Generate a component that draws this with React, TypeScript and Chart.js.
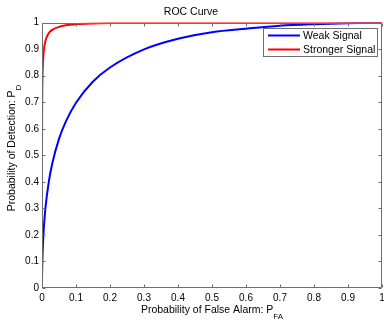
import React, { useEffect, useRef } from 'react';
import { Chart, registerables } from 'chart.js';

Chart.register(...registerables);

// ---- data ----
const pfa = [0, 0.0001, 0.0005, 0.001, 0.002, 0.005, 0.01, 0.02, 0.03, 0.05, 0.07, 0.1, 0.15, 0.2, 0.3, 0.4, 0.5, 0.6, 0.7, 0.8, 0.9, 1];
const pdWeak = [0, 0.028, 0.068, 0.099, 0.14, 0.219, 0.3, 0.4, 0.468, 0.562, 0.627, 0.698, 0.778, 0.831, 0.899, 0.939, 0.964, 0.977, 0.988, 0.994, 0.998, 1];
const pdStrong = [0, 0.53, 0.695, 0.761, 0.822, 0.89, 0.93, 0.96, 0.9725, 0.984, 0.99, 0.994, 0.997, 0.9985, 0.9995, 0.9999, 1, 1, 1, 1, 1, 1];

const xTickLabels = ['0', '0.1', '0.2', '0.3', '0.4', '0.5', '0.6', '0.7', '0.8', '0.9', '1'];
const yTickLabels = ['0', '0.1', '0.2', '0.3', '0.4', '0.5', '0.6', '0.7', '0.8', '0.9', '1'];

const seriesNames = ['Weak Signal', 'Stronger Signal'];
const seriesColors = ['#0000ff', '#ff0000'];
const chartTitle = 'ROC Curve';
const xLabel = ['Probability of False Alarm: P', 'FA'];
const yLabel = ['Probability of Detection: P', 'D'];

const FONT = "'Liberation Sans', Arial, sans-serif";
const AXIS = '#6e6e6e';

export default function App() {
  const ref = useRef<HTMLCanvasElement>(null);

  useEffect(() => {
    document.body.style.margin = '0';
    const canvas = ref.current!;

    const decor = {
      id: 'decor',
      afterDatasetsDraw(chart: any) {
        const { ctx, chartArea: a, scales } = chart;
        const xs = scales.x;
        const ys = scales.y;
        ctx.save();
        // box
        ctx.strokeStyle = AXIS;
        ctx.lineWidth = 1;
        const L = Math.round(a.left) + 0.5;
        const R = Math.round(a.right) - 0.5;
        const T = Math.round(a.top) + 0.5;
        const B = Math.round(a.bottom) - 0.5;
        ctx.beginPath();
        ctx.rect(L, T, R - L, B - T);
        ctx.stroke();
        // inner ticks
        const tl = 3;
        ctx.beginPath();
        xs.ticks.forEach((t: any) => {
          const p = Math.round(xs.getPixelForValue(t.value)) + 0.5;
          ctx.moveTo(p, B); ctx.lineTo(p, B - tl);
          ctx.moveTo(p, T); ctx.lineTo(p, T + tl);
        });
        ys.ticks.forEach((t: any) => {
          const p = Math.round(ys.getPixelForValue(t.value)) + 0.5;
          ctx.moveTo(L, p); ctx.lineTo(L + tl, p);
          ctx.moveTo(R, p); ctx.lineTo(R - tl, p);
        });
        ctx.stroke();

        // legend
        const lx = 263.5, ly = 28.5, lw = 114, lh = 28;
        ctx.fillStyle = '#ffffff';
        ctx.fillRect(lx, ly, lw, lh);
        ctx.strokeStyle = AXIS;
        ctx.strokeRect(lx, ly, lw, lh);
        ctx.font = `10.5px ${FONT}`;
        ctx.textBaseline = 'middle';
        ctx.textAlign = 'left';
        seriesNames.forEach((name, i) => {
          const yy = 35.5 + i * 14;
          ctx.strokeStyle = seriesColors[i];
          ctx.lineWidth = 2;
          ctx.beginPath();
          ctx.moveTo(268, yy);
          ctx.lineTo(300, yy);
          ctx.stroke();
          ctx.fillStyle = '#000';
          ctx.fillText(name, 303, yy + 0.5);
        });

        // axis labels with subscripts
        const mainFont = `10.5px ${FONT}`;
        const subFont = `8px ${FONT}`;
        ctx.fillStyle = '#000';
        ctx.font = mainFont;
        const xw1 = ctx.measureText(xLabel[0]).width;
        ctx.font = subFont;
        const xw2 = ctx.measureText(xLabel[1]).width;
        const cx = (a.left + a.right) / 2;
        const x0 = cx - (xw1 + xw2) / 2;
        ctx.font = mainFont;
        ctx.fillText(xLabel[0], x0, 310);
        ctx.font = subFont;
        ctx.fillText(xLabel[1], x0 + xw1, 317);

        ctx.font = mainFont;
        const yw1 = ctx.measureText(yLabel[0]).width;
        ctx.font = subFont;
        const yw2 = ctx.measureText(yLabel[1]).width;
        ctx.save();
        ctx.translate(12, 148);
        ctx.rotate(-Math.PI / 2);
        const y0 = -(yw1 + yw2) / 2;
        ctx.font = mainFont;
        ctx.fillText(yLabel[0], y0, 0);
        ctx.font = subFont;
        ctx.fillText(yLabel[1], y0 + yw1, 7);
        ctx.restore();

        ctx.restore();
      },
    };

    const chart = new Chart(canvas, {
      type: 'line',
      data: {
        datasets: [
          {
            label: seriesNames[0],
            data: pfa.map((x, i) => ({ x, y: pdWeak[i] })),
            borderColor: seriesColors[0],
            borderWidth: 2,
            pointRadius: 0,
            cubicInterpolationMode: 'monotone',
            fill: false,
            order: 1,
          },
          {
            label: seriesNames[1],
            data: pfa.map((x, i) => ({ x, y: pdStrong[i] })),
            borderColor: seriesColors[1],
            borderWidth: 2,
            pointRadius: 0,
            cubicInterpolationMode: 'monotone',
            fill: false,
            order: 0,
          },
        ],
      },
      options: {
        animation: false,
        responsive: false,
        layout: { padding: { left: 0, right: 2, top: 0, bottom: 0 } },
        plugins: {
          legend: { display: false },
          tooltip: { enabled: false },
          title: {
            display: true,
            text: chartTitle,
            color: '#000',
            font: { family: FONT, size: 10.5, weight: 'normal' },
            padding: { top: 6, bottom: 4 },
          },
        },
        scales: {
          x: {
            type: 'linear',
            min: 0,
            max: 1,
            ticks: {
              stepSize: 0.1,
              autoSkip: false,
              maxRotation: 0,
              color: '#000',
              padding: 4,
              font: { family: FONT, size: 10 },
              callback: (_v: any, i: number) => xTickLabels[i],
            },
            grid: { display: false, drawTicks: false },
            border: { display: false },
            afterFit(s: any) {
              s.height = 33;
              s.paddingLeft = 0;
              s.paddingRight = 0;
            },
          },
          y: {
            type: 'linear',
            min: 0,
            max: 1,
            ticks: {
              stepSize: 0.1,
              autoSkip: false,
              color: '#000',
              padding: 3,
              font: { family: FONT, size: 10 },
              callback: (_v: any, i: number) => yTickLabels[i],
            },
            grid: { display: false, drawTicks: false },
            border: { display: false },
            afterFit(s: any) {
              s.width = 42;
              s.paddingTop = 0;
              s.paddingBottom = 0;
            },
          },
        },
      },
      plugins: [decor],
    } as any);

    return () => chart.destroy();
  }, []);

  return (
    <div style={{ width: 384, height: 321, background: '#fff' }}>
      <canvas ref={ref} width={384} height={321} style={{ display: 'block' }} />
    </div>
  );
}
